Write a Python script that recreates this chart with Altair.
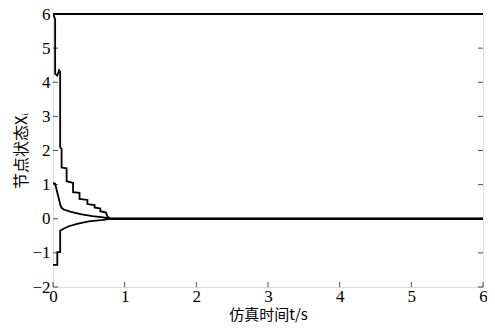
import altair as alt
import pandas as pd

# Series vertices (time t, state x)
a_t = [0.0, 0.02, 0.03, 0.03, 0.06, 0.085, 0.10, 0.10, 0.12, 0.12, 0.19, 0.19, 0.28, 0.28, 0.37, 0.37,
       0.48, 0.48, 0.58, 0.58, 0.66, 0.66, 0.74, 0.76, 0.80, 6.0]
a_x = [6.0, 5.9, 5.85, 4.25, 4.2, 4.35, 4.3, 2.1, 2.05, 1.5, 1.48, 1.1, 1.05, 0.78, 0.76, 0.58,
       0.55, 0.43, 0.40, 0.33, 0.30, 0.22, 0.18, 0.06, 0.0, 0.0]

b_t = [0.0, 0.03, 0.05, 0.08, 0.10, 0.12, 0.15, 0.25, 0.40, 0.55, 0.70, 0.80, 6.0]
b_x = [1.05, 1.03, 0.85, 0.60, 0.42, 0.32, 0.27, 0.20, 0.13, 0.08, 0.04, 0.0, 0.0]

c_t = [0.0, 0.06, 0.06, 0.10, 0.10, 0.14, 0.22, 0.35, 0.50, 0.70, 0.80, 6.0]
c_x = [-1.35, -1.35, -0.98, -0.98, -0.35, -0.30, -0.22, -0.14, -0.08, -0.03, 0.0, 0.0]

x_ticks = [0, 1, 2, 3, 4, 5, 6]
y_ticks = [-2, -1, 0, 1, 2, 3, 4, 5, 6]

rows = []
for name, ts, xs_ in [("a", a_t, a_x), ("b", b_t, b_x), ("c", c_t, c_x)]:
    for i, (t, v) in enumerate(zip(ts, xs_)):
        rows.append({"series": name, "t": t, "x": v, "i": i})
df = pd.DataFrame(rows)

W, H = 430, 273
LABEL_FONT = "Liberation Serif"
TITLE_FONT = "Noto Sans CJK SC"

xs = alt.Scale(domain=[0, 6], nice=False, zero=False)
ys = alt.Scale(domain=[-2, 6], nice=False, zero=False)

x_axis = alt.Axis(
    title="仿真时间t/s", values=x_ticks, format="d", tickSize=0, domain=False, grid=False,
    labelFont=LABEL_FONT, labelFontSize=17, labelPadding=1, labelColor="black",
    labelFlush=False, labelOverlap=False,
    titleFont=TITLE_FONT, titleFontSize=15, titleFontWeight="normal", titlePadding=3,
    titleColor="black")
y_axis = alt.Axis(
    title="节点状态Xᵢ", values=y_ticks, format="d", tickSize=0, domain=False, grid=False,
    labelFont=LABEL_FONT, labelFontSize=17, labelPadding=3, labelColor="black",
    labelFlush=False, labelOverlap=False,
    titleFont=TITLE_FONT, titleFontSize=16, titleFontWeight="normal", titlePadding=2,
    titleColor="black")

lines = alt.Chart(df).mark_line(color="black", strokeWidth=1.8, clip=True).encode(
    x=alt.X("t:Q", scale=xs, axis=x_axis),
    y=alt.Y("x:Q", scale=ys, axis=y_axis),
    detail="series:N",
    order="i:Q",
)

xt = alt.Chart(pd.DataFrame({"v": x_ticks})).mark_tick(
    color="black", size=5, thickness=1, orient="vertical").encode(
    x=alt.X("v:Q", scale=xs, axis=x_axis), y=alt.value(H - 2.5))

yt = alt.Chart(pd.DataFrame({"v": y_ticks})).mark_tick(
    color="black", size=5, thickness=1, orient="horizontal").encode(
    y=alt.Y("v:Q", scale=ys, axis=y_axis), x=alt.value(2.5))

ytr = alt.Chart(pd.DataFrame({"v": y_ticks})).mark_tick(
    color="black", size=5, thickness=1, orient="horizontal").encode(
    y=alt.Y("v:Q", scale=ys, axis=y_axis), x=alt.value(W - 2.5))

top = alt.Chart(pd.DataFrame({"v": [6]})).mark_rule(color="black", strokeWidth=2).encode(
    y=alt.Y("v:Q", scale=ys, axis=y_axis))

chart = alt.layer(lines, xt, yt, ytr, top).properties(
    width=W, height=H,
    autosize=alt.AutoSizeParams(type="none"),
    padding={"left": 45, "top": 6, "right": 4, "bottom": 36},
).configure_view(stroke="black", strokeWidth=1.2).configure_axis(
    labelFont=LABEL_FONT, titleFont=TITLE_FONT
).configure(background="white")

chart.save("out.html", embed_options={"renderer": "svg", "actions": False})
